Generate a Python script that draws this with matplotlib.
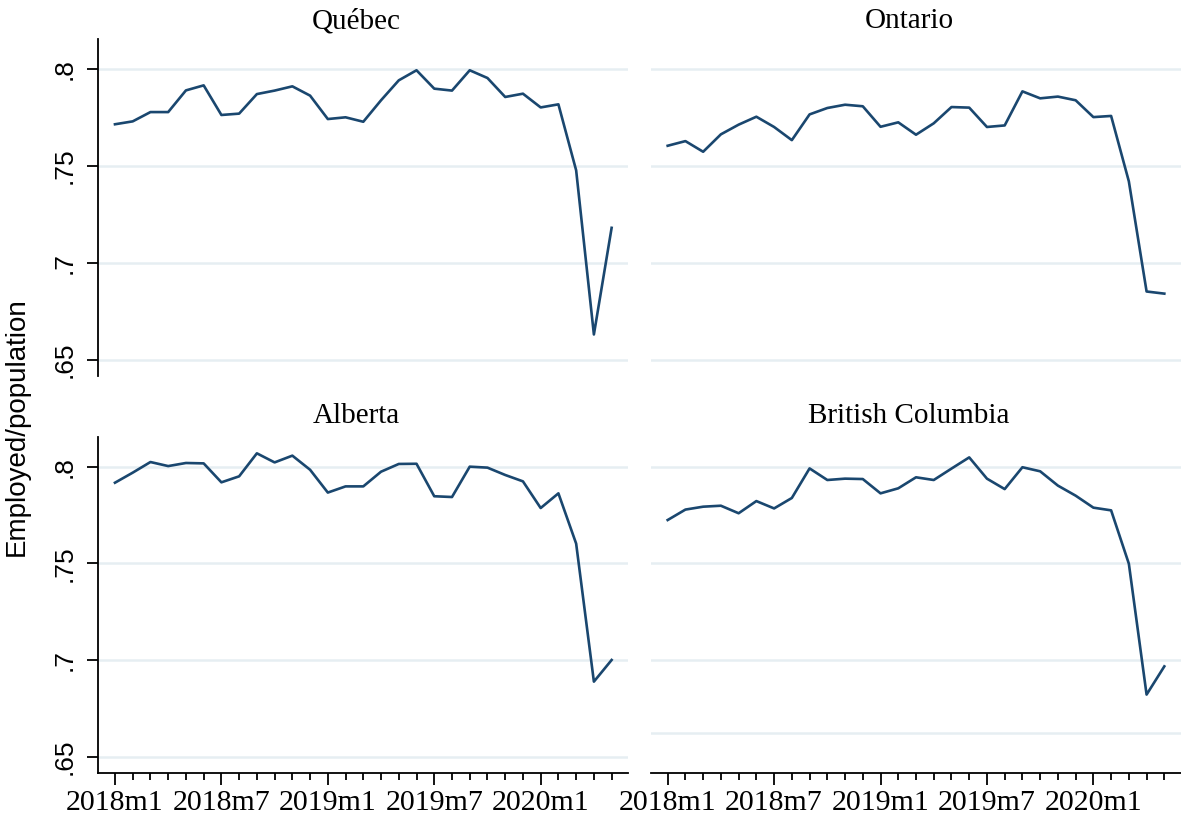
import matplotlib
matplotlib.use('Agg')
import matplotlib.pyplot as plt
import numpy as np

# ---- data ----
regions = ["Québec", "Ontario", "Alberta", "British Columbia"]
month_index = np.arange(29)  # 2018m1 .. 2020m5
xtick_pos = [0, 6, 12, 18, 24]
xtick_labels = ["2018m1", "2018m7", "2019m1", "2019m7", "2020m1"]
ytick_vals = [0.65, 0.70, 0.75, 0.80]
ytick_labels = [".65", ".7", ".75", ".8"]

quebec = [0.7716, 0.7731, 0.7779, 0.7779, 0.7891, 0.7917, 0.7764, 0.7771, 0.7872, 0.7890,
          0.7912, 0.7864, 0.7743, 0.7752, 0.7729, 0.7840, 0.7943, 0.7995, 0.7900, 0.7890,
          0.7995, 0.7955, 0.7857, 0.7874, 0.7803, 0.7819, 0.7478, 0.6630, 0.7181]
ontario = [0.7605, 0.7629, 0.7574, 0.7664, 0.7714, 0.7755, 0.7702, 0.7634, 0.7767, 0.7800,
           0.7817, 0.7809, 0.7703, 0.7726, 0.7662, 0.7721, 0.7805, 0.7802, 0.7702, 0.7710,
           0.7886, 0.7850, 0.7859, 0.7840, 0.7753, 0.7759, 0.7421, 0.6852, 0.6841]
alberta = [0.7917, 0.7969, 0.8024, 0.8003, 0.8019, 0.8017, 0.7919, 0.7950, 0.8069, 0.8022,
           0.8057, 0.7984, 0.7866, 0.7898, 0.7898, 0.7974, 0.8014, 0.8015, 0.7847, 0.7843,
           0.8000, 0.7995, 0.7957, 0.7924, 0.7786, 0.7862, 0.7602, 0.6888, 0.7000]
british_columbia = [0.7724, 0.7778, 0.7793, 0.7798, 0.7759, 0.7822, 0.7784, 0.7838, 0.7991, 0.7931,
                    0.7938, 0.7936, 0.7862, 0.7888, 0.7945, 0.7931, 0.7990, 0.8048, 0.7938, 0.7884,
                    0.7997, 0.7976, 0.7902, 0.7850, 0.7788, 0.7774, 0.7498, 0.6821, 0.6967]
series = [quebec, ontario, alberta, british_columbia]
grid_vals = [ytick_vals, ytick_vals, ytick_vals, [0.662, 0.70, 0.75, 0.80]]

# ---- style ----
LINE = "#1a476f"
GRID = "#e6eef2"
SERIF = "Liberation Serif"
SANS = "Liberation Sans"

W, H = 1181, 816
fig = plt.figure(figsize=(W / 100, H / 100), dpi=100)

def px_axes(left, top, right, bottom):
    return fig.add_axes([left / W, (H - bottom) / H, (right - left) / W, (bottom - top) / H])

boxes = [
    (98.3, 39.3, 628.3, 375.7),
    (651.0, 39.3, 1181.0, 375.7),
    (98.3, 436.7, 628.3, 772.7),
    (651.0, 436.7, 1181.0, 772.7),
]
title_y = [1.033, 1.033, 1.042, 1.042]

for i, (name, vals, box) in enumerate(zip(regions, series, boxes)):
    ax = px_axes(*box)
    left_col = i % 2 == 0
    bottom_row = i >= 2
    for g in grid_vals[i]:
        ax.axhline(g, color=GRID, lw=1.8, zorder=1)
    ax.plot(month_index, vals, color=LINE, lw=1.9, zorder=3)
    ax.set_xlim(-0.94, 28.94)
    ax.set_ylim(0.6417, 0.8155)
    for s in ["top", "right"]:
        ax.spines[s].set_visible(False)
    ax.spines["left"].set_visible(left_col)
    ax.spines["bottom"].set_visible(bottom_row)
    for s in ["left", "bottom"]:
        ax.spines[s].set_linewidth(1.3)
    # y axis
    if left_col:
        ax.set_yticks(ytick_vals)
        ax.set_yticklabels(ytick_labels, rotation=90, va="center", family=SANS, fontsize=19)
        ax.tick_params(axis="y", length=7.9, width=1.3, pad=8.0)
    else:
        ax.set_yticks([])
    # x axis
    if bottom_row:
        ax.set_xticks(xtick_pos)
        ax.set_xticklabels(xtick_labels, family=SERIF, fontsize=21.5)
        ax.set_xticks([m for m in month_index if m not in xtick_pos], minor=True)
        ax.tick_params(axis="x", which="major", length=8.6, width=1.3, pad=4.0)
        ax.tick_params(axis="x", which="minor", length=4.8, width=1.3)
    else:
        ax.set_xticks([])
    ax.text(0.487, title_y[i], name, transform=ax.transAxes, ha="center", va="baseline",
            family=SERIF, fontsize=21)

fig.text(17 / W, (H - 427) / H, "Employed/population", rotation=90, ha="center", va="center",
         family=SANS, fontsize=20)

fig.savefig("out.png", dpi=100, facecolor="white")
